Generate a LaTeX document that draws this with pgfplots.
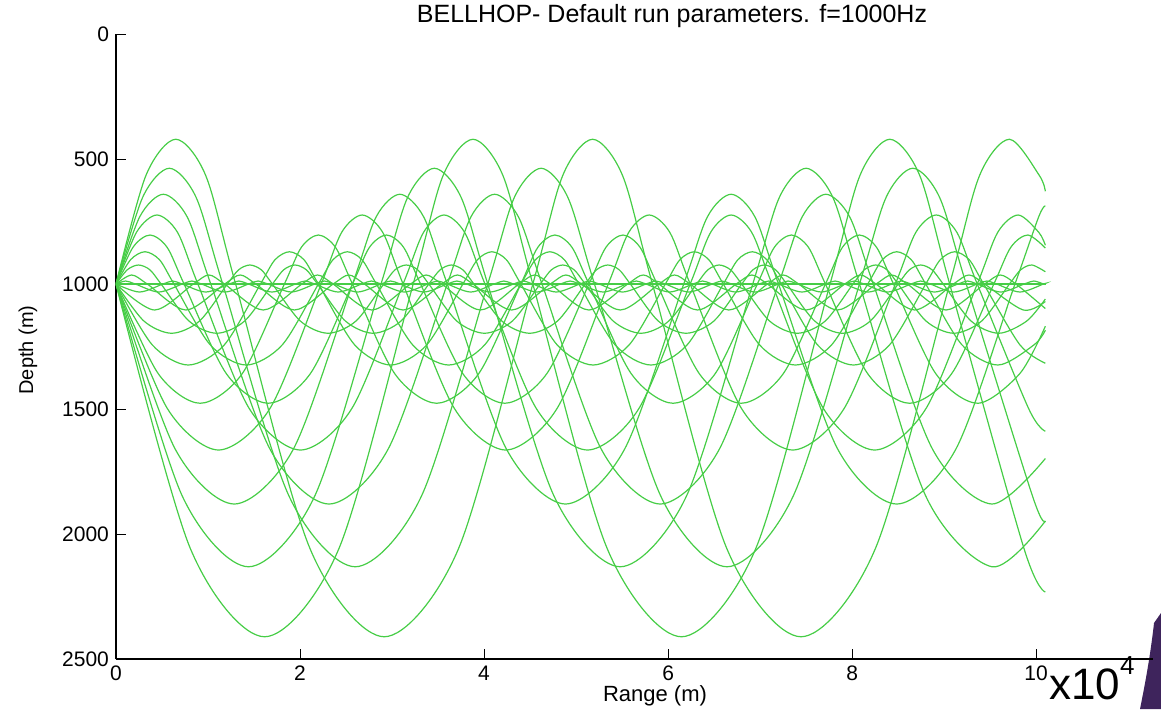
\documentclass[border=0pt]{standalone}
\usepackage{fontspec}
\setmainfont{Liberation Sans}
\usepackage{pgfplots}
\pgfplotsset{compat=1.18}
\definecolor{rayg}{RGB}{70,205,70}
\definecolor{wedge}{RGB}{62,36,92}
\pgfplotsset{ray/.style={rayg, solid, line width=0.6pt, smooth, mark=none}}
\begin{document}
\begin{tikzpicture}
\path[use as bounding box] (-58pt,-25pt) rectangle (522.5pt,329.5pt);
\fill[wedge] (519pt,18pt) .. controls (517pt,0pt) and (514pt,-15pt) .. (512pt,-25pt) -- (522.5pt,-25pt) -- (522.5pt,23pt) -- cycle;
\begin{axis}[
  at={(0,0)}, anchor=south west,
  scale only axis, width=518.5pt, height=312.5pt,
  xmin=0, xmax=11.27, ymin=0, ymax=2500, y dir=reverse,
  axis x line=bottom, axis y line=left,
  axis line style={-, line width=0.6pt, black},
  tick align=inside, major tick length=5pt,
  tick style={black, line width=0.5pt},
  xtick={0,2,4,6,8,10}, ytick={0,500,1000,1500,2000,2500},
  ticklabel style={font=\fontsize{10.5}{12}\selectfont},
  /pgf/number format/assume math mode=true,
  /pgf/number format/1000 sep={},
  scaled ticks=false,
]
% theta = +-10
\addplot[ray] coordinates {(0,1000) (0.325,566) (0.65,421) (0.975,566) (1.30,1000) (2.108,2058) (2.915,2411) (3.723,2058) (4.53,1000) (4.855,566) (5.18,421) (5.505,566) (5.83,1000) (6.638,2058) (7.445,2411) (8.253,2058) (9.06,1000) (9.385,566) (9.71,421) (10.035,566) (10.1,629)};
\addplot[ray] coordinates {(0,1000) (0.808,2058) (1.615,2411) (2.423,2058) (3.23,1000) (3.555,566) (3.88,421) (4.205,566) (4.53,1000) (5.338,2058) (6.145,2411) (6.953,2058) (7.76,1000) (8.085,566) (8.41,421) (8.735,566) (9.06,1000) (9.868,2058) (10.1,2232)};
% theta = +-9
\addplot[ray] coordinates {(0,1000) (0.29,653) (0.58,537) (0.87,653) (1.16,1000) (1.88,1848) (2.60,2131) (3.32,1848) (4.04,1000) (4.33,653) (4.62,537) (4.91,653) (5.20,1000) (5.92,1848) (6.64,2131) (7.36,1848) (8.08,1000) (8.37,653) (8.66,537) (8.95,653) (9.24,1000) (9.96,1848) (10.1,1948)};
\addplot[ray] coordinates {(0,1000) (0.72,1848) (1.44,2131) (2.16,1848) (2.88,1000) (3.17,653) (3.46,537) (3.75,653) (4.04,1000) (4.76,1848) (5.48,2131) (6.20,1848) (6.92,1000) (7.21,653) (7.50,537) (7.79,653) (8.08,1000) (8.80,1848) (9.52,2131) (10.1,1948)};
% theta = +-8
\addplot[ray] coordinates {(0,1000) (0.258,731) (0.515,641) (0.773,731) (1.03,1000) (1.673,1660) (2.315,1880) (2.958,1660) (3.60,1000) (3.858,731) (4.115,641) (4.373,731) (4.63,1000) (5.273,1660) (5.915,1880) (6.558,1660) (7.20,1000) (7.458,731) (7.715,641) (7.973,731) (8.23,1000) (8.873,1660) (9.515,1880) (10.1,1698)};
\addplot[ray] coordinates {(0,1000) (0.643,1660) (1.285,1880) (1.928,1660) (2.57,1000) (2.828,731) (3.085,641) (3.343,731) (3.60,1000) (4.243,1660) (4.885,1880) (5.528,1660) (6.17,1000) (6.428,731) (6.685,641) (6.943,731) (7.20,1000) (7.843,1660) (8.485,1880) (9.128,1660) (9.77,1000) (10.028,731) (10.1,687)};
% theta = +-7
\addplot[ray] coordinates {(0,1000) (0.223,793) (0.445,724) (0.668,793) (0.89,1000) (1.448,1498) (2.005,1664) (2.563,1498) (3.12,1000) (3.343,793) (3.565,724) (3.788,793) (4.01,1000) (4.568,1498) (5.125,1664) (5.683,1498) (6.24,1000) (6.463,793) (6.685,724) (6.908,793) (7.13,1000) (7.688,1498) (8.245,1664) (8.803,1498) (9.36,1000) (9.583,793) (9.805,724) (10.028,793) (10.1,845)};
\addplot[ray] coordinates {(0,1000) (0.558,1498) (1.115,1664) (1.673,1498) (2.23,1000) (2.453,793) (2.675,724) (2.898,793) (3.12,1000) (3.678,1498) (4.235,1664) (4.793,1498) (5.35,1000) (5.573,793) (5.795,724) (6.018,793) (6.24,1000) (6.798,1498) (7.355,1664) (7.913,1498) (8.47,1000) (8.693,793) (8.915,724) (9.138,793) (9.36,1000) (9.918,1498) (10.1,1589)};
% theta = +-6
\addplot[ray] coordinates {(0,1000) (0.185,853) (0.37,804) (0.555,853) (0.74,1000) (1.198,1358) (1.655,1477) (2.113,1358) (2.57,1000) (2.755,853) (2.94,804) (3.125,853) (3.31,1000) (3.768,1358) (4.225,1477) (4.683,1358) (5.14,1000) (5.325,853) (5.51,804) (5.695,853) (5.88,1000) (6.338,1358) (6.795,1477) (7.253,1358) (7.71,1000) (7.895,853) (8.08,804) (8.265,853) (8.45,1000) (8.908,1358) (9.365,1477) (9.823,1358) (10.1,1169)};
\addplot[ray] coordinates {(0,1000) (0.458,1358) (0.915,1477) (1.373,1358) (1.83,1000) (2.015,853) (2.20,804) (2.385,853) (2.57,1000) (3.028,1358) (3.485,1477) (3.943,1358) (4.40,1000) (4.585,853) (4.77,804) (4.955,853) (5.14,1000) (5.598,1358) (6.055,1477) (6.513,1358) (6.97,1000) (7.155,853) (7.34,804) (7.525,853) (7.71,1000) (8.168,1358) (8.625,1477) (9.083,1358) (9.54,1000) (9.725,853) (9.91,804) (10.1,856)};
% theta = +-5
\addplot[ray] coordinates {(0,1000) (0.158,903) (0.315,871) (0.473,903) (0.63,1000) (1.023,1243) (1.415,1324) (1.808,1243) (2.20,1000) (2.358,903) (2.515,871) (2.673,903) (2.83,1000) (3.223,1243) (3.615,1324) (4.008,1243) (4.40,1000) (4.558,903) (4.715,871) (4.873,903) (5.03,1000) (5.423,1243) (5.815,1324) (6.208,1243) (6.60,1000) (6.758,903) (6.915,871) (7.073,903) (7.23,1000) (7.623,1243) (8.015,1324) (8.408,1243) (8.80,1000) (8.958,903) (9.115,871) (9.273,903) (9.43,1000) (9.823,1243) (10.1,1317)};
\addplot[ray] coordinates {(0,1000) (0.393,1243) (0.785,1324) (1.178,1243) (1.57,1000) (1.728,903) (1.885,871) (2.043,903) (2.20,1000) (2.593,1243) (2.985,1324) (3.378,1243) (3.77,1000) (3.928,903) (4.085,871) (4.243,903) (4.40,1000) (4.793,1243) (5.185,1324) (5.578,1243) (5.97,1000) (6.128,903) (6.285,871) (6.443,903) (6.60,1000) (6.993,1243) (7.385,1324) (7.778,1243) (8.17,1000) (8.328,903) (8.485,871) (8.643,903) (8.80,1000) (9.193,1243) (9.585,1324) (9.978,1243) (10.1,1185)};
% theta = +-4
\addplot[ray] coordinates {(0,1000) (0.123,943) (0.245,924) (0.368,943) (0.49,1000) (0.793,1148) (1.095,1197) (1.398,1148) (1.70,1000) (1.823,943) (1.945,924) (2.068,943) (2.19,1000) (2.493,1148) (2.795,1197) (3.098,1148) (3.40,1000) (3.523,943) (3.645,924) (3.768,943) (3.89,1000) (4.193,1148) (4.495,1197) (4.798,1148) (5.10,1000) (5.223,943) (5.345,924) (5.468,943) (5.59,1000) (5.893,1148) (6.195,1197) (6.498,1148) (6.80,1000) (6.923,943) (7.045,924) (7.168,943) (7.29,1000) (7.593,1148) (7.895,1197) (8.198,1148) (8.50,1000) (8.623,943) (8.745,924) (8.868,943) (8.99,1000) (9.293,1148) (9.595,1197) (9.898,1148) (10.1,1060)};
\addplot[ray] coordinates {(0,1000) (0.303,1148) (0.605,1197) (0.908,1148) (1.21,1000) (1.333,943) (1.455,924) (1.578,943) (1.70,1000) (2.003,1148) (2.305,1197) (2.608,1148) (2.91,1000) (3.033,943) (3.155,924) (3.278,943) (3.40,1000) (3.703,1148) (4.005,1197) (4.308,1148) (4.61,1000) (4.733,943) (4.855,924) (4.978,943) (5.10,1000) (5.403,1148) (5.705,1197) (6.008,1148) (6.31,1000) (6.433,943) (6.555,924) (6.678,943) (6.80,1000) (7.103,1148) (7.405,1197) (7.708,1148) (8.01,1000) (8.133,943) (8.255,924) (8.378,943) (8.50,1000) (8.803,1148) (9.105,1197) (9.408,1148) (9.71,1000) (9.833,943) (9.955,924) (10.1,951)};
% theta = +-3
\addplot[ray] coordinates {(0,1000) (0.17,964) (0.34,1000) (0.76,1104) (1.18,1000) (1.35,964) (1.52,1000) (1.94,1104) (2.36,1000) (2.53,964) (2.70,1000) (3.12,1104) (3.54,1000) (3.71,964) (3.88,1000) (4.30,1104) (4.72,1000) (4.89,964) (5.06,1000) (5.48,1104) (5.90,1000) (6.07,964) (6.24,1000) (6.66,1104) (7.08,1000) (7.25,964) (7.42,1000) (7.84,1104) (8.26,1000) (8.43,964) (8.60,1000) (9.02,1104) (9.44,1000) (9.61,964) (9.78,1000) (10.1,1098)};
\addplot[ray] coordinates {(0,1000) (0.42,1104) (0.84,1000) (1.01,964) (1.18,1000) (1.60,1104) (2.02,1000) (2.19,964) (2.36,1000) (2.78,1104) (3.20,1000) (3.37,964) (3.54,1000) (3.96,1104) (4.38,1000) (4.55,964) (4.72,1000) (5.14,1104) (5.56,1000) (5.73,964) (5.90,1000) (6.32,1104) (6.74,1000) (6.91,964) (7.08,1000) (7.50,1104) (7.92,1000) (8.09,964) (8.26,1000) (8.68,1104) (9.10,1000) (9.27,964) (9.44,1000) (9.86,1104) (10.1,1070)};
% theta = +-2
\addplot[ray] coordinates {(0,1000) (0.105,988) (0.21,1000) (0.465,1032) (0.72,1000) (0.825,988) (0.93,1000) (1.185,1032) (1.44,1000) (1.545,988) (1.65,1000) (1.905,1032) (2.16,1000) (2.265,988) (2.37,1000) (2.625,1032) (2.88,1000) (2.985,988) (3.09,1000) (3.345,1032) (3.60,1000) (3.705,988) (3.81,1000) (4.065,1032) (4.32,1000) (4.425,988) (4.53,1000) (4.785,1032) (5.04,1000) (5.145,988) (5.25,1000) (5.505,1032) (5.76,1000) (5.865,988) (5.97,1000) (6.225,1032) (6.48,1000) (6.585,988) (6.69,1000) (6.945,1032) (7.20,1000) (7.305,988) (7.41,1000) (7.665,1032) (7.92,1000) (8.025,988) (8.13,1000) (8.385,1032) (8.64,1000) (8.745,988) (8.85,1000) (9.105,1032) (9.36,1000) (9.465,988) (9.57,1000) (9.825,1032) (10.08,1000) (10.1,998)};
\addplot[ray] coordinates {(0,1000) (0.255,1032) (0.51,1000) (0.615,988) (0.72,1000) (0.975,1032) (1.23,1000) (1.335,988) (1.44,1000) (1.695,1032) (1.95,1000) (2.055,988) (2.16,1000) (2.415,1032) (2.67,1000) (2.775,988) (2.88,1000) (3.135,1032) (3.39,1000) (3.495,988) (3.60,1000) (3.855,1032) (4.11,1000) (4.215,988) (4.32,1000) (4.575,1032) (4.83,1000) (4.935,988) (5.04,1000) (5.295,1032) (5.55,1000) (5.655,988) (5.76,1000) (6.015,1032) (6.27,1000) (6.375,988) (6.48,1000) (6.735,1032) (6.99,1000) (7.095,988) (7.20,1000) (7.455,1032) (7.71,1000) (7.815,988) (7.92,1000) (8.175,1032) (8.43,1000) (8.535,988) (8.64,1000) (8.895,1032) (9.15,1000) (9.255,988) (9.36,1000) (9.615,1032) (9.87,1000) (9.975,988) (10.08,1000) (10.1,1002)};
% theta = 0, +-1
\addplot[ray, line width=1.1pt] coordinates {(0,1000) (10.1,1000)};
\end{axis}
\node[anchor=base, font=\fontsize{12.5}{14}\selectfont] at (278pt,318.5pt) {BELLHOP- Default run parameters. f=1000Hz};
\node[font=\fontsize{11}{13}\selectfont] at (269.5pt,-18.5pt) {Range (m)};
\node[rotate=90, font=\fontsize{10}{12}\selectfont] at (-44pt,154.5pt) {Depth (m)};
\node[font=\fontsize{22}{24}\selectfont, anchor=base west] at (463pt,-20pt) {x10\raisebox{0.55em}{\fontsize{13}{14}\selectfont 4}};
\end{tikzpicture}
\end{document}
